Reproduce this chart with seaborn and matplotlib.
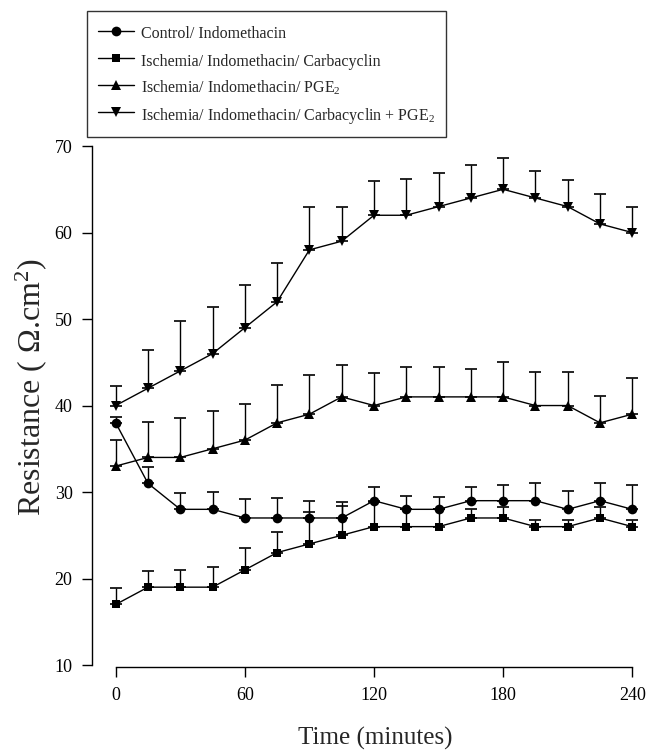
import numpy as np
import pandas as pd
import matplotlib
matplotlib.use("Agg")
import matplotlib.pyplot as plt
import seaborn as sns

# --------------------------
# Datos
# --------------------------
tiempo = [0, 15, 30, 45, 60, 75, 90, 105, 120, 135, 150, 165, 180, 195, 210, 225, 240]

grupos = [
    "Control/ Indomethacin",
    "Ischemia/ Indomethacin/ Carbacyclin",
    "Ischemia/ Indomethacin/ PGE$_2$",
    "Ischemia/ Indomethacin/ Carbacyclin + PGE$_2$",
]

control = [38, 31, 28, 28, 27, 27, 27, 27, 29, 28, 28, 29, 29, 29, 28, 29, 28]
control_se = [0.7, 1.9, 1.9, 2.0, 2.2, 2.3, 2.0, 1.8, 1.6, 1.5, 1.4, 1.6, 1.8, 2.1, 2.1, 2.1, 2.8]

carba = [17, 19, 19, 19, 21, 23, 24, 25, 26, 26, 26, 27, 27, 26, 26, 27, 26]
carba_se = [1.9, 1.9, 2.0, 2.3, 2.5, 2.4, 3.7, 3.4, 2.8, 2.0, 2.0, 1.0, 1.3, 0.8, 0.8, 1.3, 0.8]

pge2 = [33, 34, 34, 35, 36, 38, 39, 41, 40, 41, 41, 41, 41, 40, 40, 38, 39]
pge2_se = [3.0, 4.1, 4.6, 4.4, 4.2, 4.4, 4.5, 3.7, 3.8, 3.5, 3.5, 3.2, 4.0, 3.9, 3.9, 3.1, 4.2]

carba_pge2 = [40, 42, 44, 46, 49, 52, 58, 59, 62, 62, 63, 64, 65, 64, 63, 61, 60]
carba_pge2_se = [2.3, 4.4, 5.8, 5.4, 4.9, 4.5, 5.0, 4.0, 4.0, 4.2, 3.9, 3.8, 3.6, 3.1, 3.1, 3.5, 3.0]

medias = [control, carba, pge2, carba_pge2]
errores = [control_se, carba_se, pge2_se, carba_pge2_se]

df = pd.concat([
    pd.DataFrame({"tiempo": tiempo, "resistencia": m, "se": e, "grupo": g})
    for g, m, e in zip(grupos, medias, errores)
], ignore_index=True)

# --------------------------
# Estilo
# --------------------------
sns.set_style("ticks")
plt.rcParams["font.family"] = ["Liberation Serif", "DejaVu Serif"]
plt.rcParams["mathtext.fontset"] = "custom"
plt.rcParams["mathtext.rm"] = "Liberation Serif"
plt.rcParams["mathtext.it"] = "Liberation Serif:italic"

marcadores = {grupos[0]: "o", grupos[1]: "s", grupos[2]: "^", grupos[3]: "v"}
tamanos = {grupos[0]: 7.0, grupos[1]: 6.2, grupos[2]: 7.4, grupos[3]: 7.4}

fig = plt.figure(figsize=(6.49, 7.51), dpi=100)
ax = fig.add_axes([0.1418, 0.1145, 0.849, 0.691])

# barras de error (solo hacia arriba)
for g in grupos:
    d = df[df["grupo"] == g]
    ax.errorbar(d["tiempo"], d["resistencia"],
                yerr=[np.zeros(len(d)), d["se"]],
                fmt="none", ecolor="black", elinewidth=1.0,
                capsize=4.3, capthick=1.2, zorder=1)

# líneas y marcadores
for g in grupos:
    sns.lineplot(data=df[df["grupo"] == g], x="tiempo", y="resistencia",
                 color="black", linewidth=1.0, marker=marcadores[g],
                 markersize=tamanos[g], markeredgewidth=0,
                 label=g, ax=ax, zorder=3, legend=False)

ax.set_xlim(-11, 245)
ax.set_ylim(10, 70)
ax.set_xticks([0, 60, 120, 180, 240])
ax.set_yticks([10, 20, 30, 40, 50, 60, 70])
ax.spines["top"].set_visible(False)
ax.spines["right"].set_visible(False)
ax.spines["bottom"].set_bounds(0, 240)
ax.spines["bottom"].set_position(("outward", 1.5))
for s in ["left", "bottom"]:
    ax.spines[s].set_linewidth(1.0)
    ax.spines[s].set_color("black")
ax.tick_params(axis="both", direction="out", length=7, width=1.0,
               labelsize=13, pad=7, colors="black")

ax.set_xlabel("Time (minutes)", fontsize=18)
ax.xaxis.set_label_coords(0.514, -0.12)
ax.set_ylabel("Resistance ( Ω.cm$^2$)", fontsize=23)
ax.yaxis.set_label_coords(-0.078, 0.535)

handles, labels = ax.get_legend_handles_labels()
leg = fig.legend(handles, labels, loc="upper left",
                 bbox_to_anchor=(0.134, 0.985), fontsize=11.5,
                 frameon=True, fancybox=False, edgecolor="black",
                 handlelength=2.2, handletextpad=0.45, handleheight=1.65,
                 labelspacing=0.38, borderpad=0.72, borderaxespad=0)
leg.get_frame().set_linewidth(1.0)

plt.savefig("out.png", dpi=100)
